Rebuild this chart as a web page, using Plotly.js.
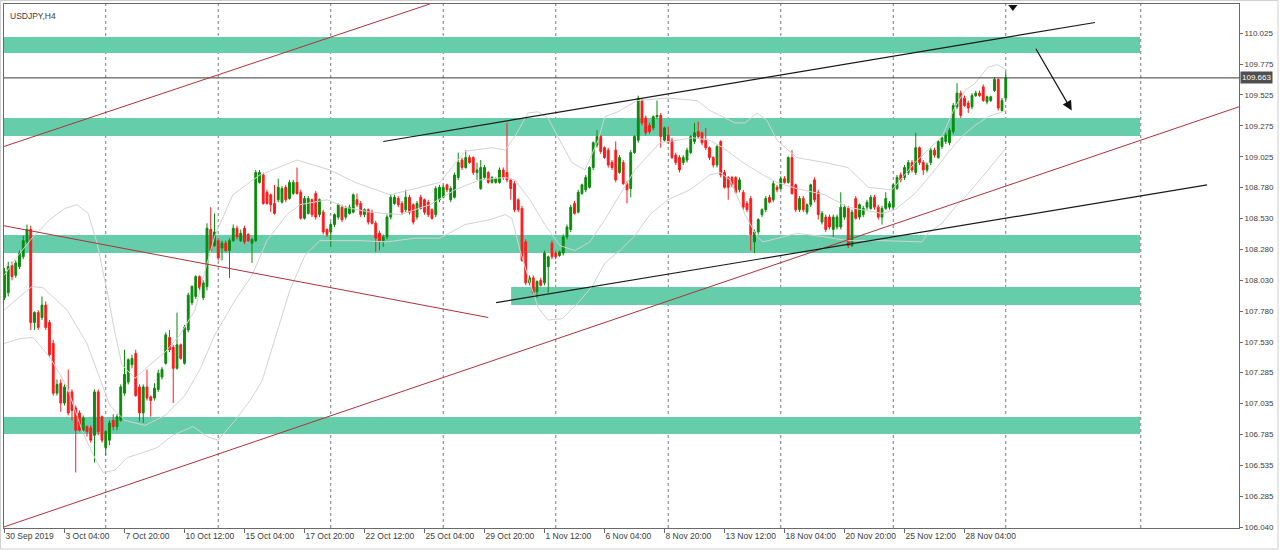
<!DOCTYPE html>
<html><head><meta charset="utf-8">
<script src="https://cdn.plot.ly/plotly-3.0.1.min.js"></script>
<style>html,body{margin:0;padding:0;background:#fff;}#chart{width:1280px;height:551px;}</style>
</head><body><div id="chart"></div>
<script>
// ---- USDJPY H4 candles (bar index 0 = 30 Sep 2019) ----
const openP = [
107.89,107.93,108.15,108.07,108.14,108.22,108.34,108.44,107.69,107.77,
107.73,107.83,107.69,107.52,107.12,107.20,107.04,107.13,107.13,107.00,
106.96,106.82,106.85,106.84,106.78,107.13,106.93,106.68,106.74,106.90,
106.85,106.90,107.12,107.21,107.35,107.44,107.17,106.96,107.17,107.09,
107.08,107.15,107.25,107.36,107.57,107.49,107.32,107.51,107.36,107.63,
107.85,107.90,108.06,107.89,107.98,108.44,108.31,108.35,108.29,108.33,
108.27,108.35,108.45,108.35,108.45,108.40,108.33,108.35,108.82,108.88,
108.74,108.72,108.65,108.68,108.66,108.78,108.69,108.73,108.82,108.74,
108.53,108.57,108.68,108.73,108.56,108.58,108.44,108.42,108.48,108.54,
108.62,108.54,108.57,108.58,108.68,108.65,108.56,108.60,108.58,108.49,
108.41,108.35,108.38,108.54,108.65,108.69,108.65,108.60,108.70,108.64,
108.54,108.70,108.68,108.66,108.60,108.56,108.68,108.70,108.80,108.68,
108.70,108.86,109.00,108.94,109.02,109.02,108.90,108.77,108.86,108.90,
108.82,108.82,108.82,108.92,108.90,108.84,108.81,108.68,108.61,108.34,
108.01,108.05,107.94,108.03,108.01,108.14,108.33,108.25,108.23,108.25,
108.38,108.44,108.65,108.58,108.73,108.76,108.78,108.94,109.12,109.19,
109.10,109.08,108.98,109.08,108.90,108.98,108.81,108.77,109.06,109.16,
109.48,109.34,109.28,109.26,109.35,109.36,109.16,109.20,109.16,109.04,
109.02,108.98,109.00,109.06,109.15,109.23,109.22,109.16,109.10,109.02,
108.96,109.15,108.90,108.86,108.86,108.86,108.76,108.74,108.65,108.69,
108.34,108.42,108.56,108.60,108.70,108.68,108.78,108.77,108.85,108.82,
109.02,108.80,108.60,108.69,108.58,108.64,108.84,108.74,108.50,108.54,
108.54,108.44,108.46,108.46,108.54,108.61,108.31,108.69,108.54,108.56,
108.62,108.61,108.70,108.62,108.54,108.61,108.62,108.62,108.77,108.88,
108.86,108.90,108.98,108.90,109.10,108.98,108.92,108.98,109.08,109.02,
109.11,109.15,109.14,109.23,109.43,109.54,109.50,109.46,109.43,109.52,
109.54,109.59,109.47,109.48,109.56,109.65,109.40,109.50];
const highP = [
108.13,108.18,108.18,108.19,108.27,108.39,108.48,108.47,107.78,107.79,
107.90,107.86,107.71,107.55,107.23,107.23,107.19,107.31,107.15,107.02,
106.98,106.94,106.86,106.86,107.15,107.15,106.94,106.82,106.90,106.95,
106.95,107.19,107.47,107.40,107.43,107.47,107.19,107.19,107.31,107.10,
107.20,107.31,107.33,107.61,107.63,107.51,107.77,107.52,107.67,107.93,
107.99,108.07,108.07,108.03,108.49,108.62,108.57,108.37,108.35,108.35,
108.37,108.48,108.47,108.44,108.47,108.41,108.37,108.92,108.92,108.90,
108.76,108.73,108.80,108.85,108.79,108.80,108.84,108.84,108.94,108.76,
108.71,108.71,108.69,108.75,108.69,108.60,108.45,108.50,108.57,108.65,
108.64,108.63,108.64,108.73,108.73,108.67,108.61,108.61,108.60,108.51,
108.43,108.40,108.56,108.72,108.72,108.71,108.67,108.76,108.72,108.65,
108.67,108.72,108.69,108.68,108.61,108.79,108.80,108.80,108.81,108.79,
108.90,109.06,109.02,109.08,109.04,109.03,108.98,109.00,108.96,108.91,
108.87,108.86,108.94,108.94,109.30,108.85,108.83,108.69,108.63,108.36,
108.07,108.07,108.03,108.05,108.27,108.23,108.35,108.27,108.27,108.40,
108.48,108.64,108.67,108.76,108.81,108.88,108.95,109.15,109.24,109.20,
109.11,109.10,109.00,109.15,109.04,109.00,108.83,109.08,109.20,109.52,
109.50,109.36,109.30,109.36,109.48,109.38,109.27,109.27,109.18,109.06,
109.04,109.04,109.10,109.20,109.30,109.31,109.23,109.26,109.11,109.03,
109.12,109.16,108.92,108.87,108.87,108.87,108.86,108.76,108.67,108.71,
108.44,108.53,108.61,108.71,108.72,108.83,108.80,108.87,108.87,109.03,
109.08,108.81,108.71,108.71,108.65,108.81,108.86,108.76,108.59,108.56,
108.56,108.56,108.56,108.74,108.64,108.63,108.60,108.71,108.65,108.63,
108.68,108.72,108.72,108.64,108.63,108.74,108.67,108.81,108.88,108.90,
108.96,109.00,109.00,109.22,109.11,109.00,108.98,109.10,109.10,109.16,
109.19,109.22,109.26,109.46,109.62,109.56,109.52,109.48,109.54,109.56,
109.56,109.61,109.52,109.52,109.67,109.66,109.50,109.71];
const lowP = [
107.87,107.90,108.03,108.05,108.12,108.20,108.32,107.63,107.63,107.63,
107.71,107.63,107.41,107.10,107.10,106.97,107.02,106.94,106.90,106.48,
106.81,106.81,106.77,106.72,106.56,106.78,106.72,106.62,106.70,106.82,
106.82,106.89,107.10,107.19,107.32,107.09,106.89,106.88,107.06,106.93,
107.06,107.13,107.23,107.35,107.45,107.04,107.31,107.39,107.35,107.61,
107.83,107.88,107.95,107.87,107.95,108.26,108.30,108.19,108.19,108.26,
108.05,108.34,108.36,108.34,108.32,108.34,108.17,108.34,108.81,108.64,
108.64,108.58,108.56,108.66,108.65,108.66,108.68,108.72,108.72,108.52,
108.52,108.56,108.54,108.52,108.54,108.40,108.38,108.30,108.46,108.52,
108.50,108.52,108.56,108.57,108.62,108.54,108.54,108.48,108.48,108.26,
108.27,108.30,108.36,108.52,108.64,108.62,108.56,108.58,108.56,108.48,
108.52,108.60,108.56,108.54,108.52,108.54,108.66,108.69,108.74,108.66,
108.69,108.84,108.92,108.93,108.97,108.88,108.84,108.76,108.85,108.81,
108.81,108.81,108.81,108.84,108.82,108.68,108.58,108.58,108.18,107.99,
107.99,107.91,107.89,107.98,107.99,107.93,108.20,108.20,108.22,108.23,
108.36,108.42,108.56,108.57,108.72,108.74,108.77,108.92,109.10,109.05,
109.01,108.94,108.92,108.82,108.89,108.80,108.65,108.70,109.05,109.14,
109.28,109.20,109.21,109.24,109.33,109.10,109.15,109.13,109.01,108.96,
108.90,108.96,108.98,109.05,109.13,109.17,109.12,109.08,109.00,108.94,
108.94,108.86,108.77,108.68,108.78,108.73,108.74,108.60,108.58,108.27,
108.25,108.40,108.54,108.58,108.65,108.66,108.74,108.76,108.81,108.81,
108.72,108.58,108.58,108.58,108.56,108.62,108.66,108.52,108.48,108.42,
108.44,108.38,108.44,108.44,108.52,108.29,108.30,108.52,108.52,108.54,
108.60,108.60,108.60,108.52,108.48,108.60,108.60,108.60,108.76,108.82,
108.84,108.88,108.90,108.88,108.96,108.88,108.90,108.96,109.02,109.01,
109.09,109.13,109.12,109.21,109.41,109.34,109.43,109.38,109.41,109.51,
109.51,109.47,109.45,109.47,109.55,109.40,109.39,109.48];
const closeP = [
108.10,108.14,108.06,108.17,108.25,108.35,108.44,107.69,107.77,107.65,
107.83,107.65,107.43,107.12,107.19,107.04,107.17,106.96,106.98,106.82,
106.82,106.92,106.81,106.74,107.13,106.81,106.74,106.81,106.88,106.85,
106.93,107.17,107.27,107.39,107.40,107.10,106.96,107.17,107.08,107.06,
107.16,107.28,107.31,107.59,107.47,107.32,107.51,107.40,107.65,107.91,
107.98,108.06,107.97,108.01,108.45,108.27,108.42,108.21,108.33,108.27,
108.35,108.45,108.38,108.41,108.34,108.35,108.36,108.90,108.90,108.65,
108.65,108.64,108.57,108.78,108.77,108.68,108.82,108.82,108.73,108.53,
108.69,108.69,108.56,108.54,108.68,108.42,108.40,108.48,108.56,108.64,
108.52,108.61,108.62,108.72,108.64,108.56,108.60,108.50,108.49,108.37,
108.35,108.38,108.54,108.70,108.70,108.64,108.58,108.70,108.58,108.50,
108.65,108.61,108.58,108.56,108.53,108.77,108.78,108.78,108.76,108.77,
108.88,108.98,108.94,109.02,108.98,108.90,108.92,108.94,108.94,108.82,
108.86,108.85,108.92,108.86,108.84,108.77,108.60,108.60,108.19,108.01,
108.05,107.93,108.02,107.99,108.25,108.22,108.22,108.22,108.26,108.38,
108.46,108.62,108.57,108.74,108.80,108.86,108.94,109.14,109.19,109.07,
109.02,108.96,108.94,108.84,109.02,108.81,108.76,109.06,109.19,109.50,
109.30,109.22,109.23,109.35,109.36,109.19,109.26,109.15,109.02,108.98,
108.92,109.02,109.08,109.19,109.22,109.19,109.14,109.10,109.02,108.96,
109.11,108.88,108.78,108.78,108.80,108.74,108.84,108.62,108.60,108.40,
108.42,108.52,108.60,108.69,108.66,108.81,108.76,108.85,108.82,109.02,
108.73,108.60,108.69,108.60,108.64,108.80,108.68,108.56,108.57,108.44,
108.46,108.54,108.54,108.62,108.62,108.31,108.58,108.53,108.64,108.61,
108.66,108.70,108.62,108.54,108.61,108.69,108.65,108.80,108.86,108.84,
108.94,108.98,108.92,109.10,108.98,108.92,108.96,109.08,109.04,109.15,
109.18,109.20,109.24,109.44,109.54,109.36,109.44,109.42,109.52,109.54,
109.52,109.48,109.51,109.51,109.65,109.42,109.48,109.663];
const barIndex = closeP.map((_, i) => i);

// ---- Bollinger band lines (bar index, price) ----
const bbUpperIdx = [-0.1,3.6,7.6,12.1,16.1,19.3,22.3,24.7,27.3,29.5,31.3,34.8,38.8,42.8,46.8,50.8,53.5,56.1,60.9,68.1,78.0,86.8,93.5,102.8,109.5,116.1,122.8,130.0,133.5,136.1,139.6,142.3,144.9,147.6,151.3,154.8,158.3,160.1,163.6,168.7,176.9,184.7,188.1,194.8,197.5,200.7,203.3,206.0,211.3,218.8,224.9,230.3,236.7,242.8,250.0,253.5,256.1,258.8,262.3,264.7,267.1];
const bbUpperVal = [108.07,108.23,108.38,108.52,108.61,108.64,108.57,108.33,107.95,107.60,107.35,107.24,107.35,107.45,107.59,107.79,108.11,108.39,108.72,108.88,109.00,108.92,108.82,108.72,108.77,108.82,109.07,109.10,109.08,109.19,109.38,109.39,109.34,109.19,108.98,108.92,109.16,109.35,109.39,109.48,109.50,109.48,109.40,109.30,109.30,109.38,109.32,109.16,109.02,108.98,108.94,108.78,108.76,108.98,109.19,109.43,109.56,109.62,109.75,109.77,109.73];
const bbMidIdx = [-0.1,7.3,10.3,16.7,22.0,25.5,28.1,32.1,37.5,42.8,48.1,52.1,56.1,61.5,66.0,70.0,75.3,78.8,86.0,90.8,97.5,105.5,113.5,120.1,126.8,133.5,136.1,140.1,144.1,148.1,152.1,156.1,160.1,164.1,168.1,174.8,183.6,188.1,191.6,196.9,202.3,206.0,211.3,218.8,224.9,234.0,237.5,242.8,248.1,251.6,255.3,258.8,262.3,267.1];
const bbMidVal = [107.79,107.98,107.97,107.79,107.52,107.23,107.02,106.90,106.86,106.94,107.10,107.31,107.59,107.87,108.07,108.35,108.56,108.64,108.68,108.62,108.58,108.56,108.64,108.76,108.84,108.86,108.84,108.68,108.48,108.31,108.27,108.34,108.52,108.72,108.92,109.14,109.18,109.16,109.10,108.98,108.88,108.82,108.77,108.72,108.62,108.57,108.60,108.73,108.92,109.06,109.19,109.28,109.35,109.40];
const bbLowerIdx = [-0.1,4.1,7.6,12.1,16.7,20.9,24.7,26.3,29.5,32.7,36.9,40.7,44.9,50.3,54.0,56.9,61.5,65.5,68.7,72.1,76.1,80.1,84.1,88.1,94.8,102.0,109.5,116.1,122.8,129.5,133.5,135.3,137.5,139.6,142.3,144.9,148.7,153.0,156.7,160.1,164.1,168.1,172.1,176.9,182.8,188.1,190.8,193.5,197.5,200.7,202.3,207.6,211.3,218.8,224.9,234.0,244.7,246.3,250.0,253.5,257.0,262.3,267.1];
const bbLowerVal = [107.52,107.56,107.57,107.41,107.17,106.80,106.56,106.48,106.50,106.60,106.64,106.68,106.78,106.85,106.77,106.74,106.90,107.06,107.22,107.55,107.95,108.23,108.35,108.35,108.35,108.34,108.37,108.37,108.48,108.52,108.56,108.53,108.27,108.06,107.81,107.71,107.72,107.85,107.98,108.17,108.27,108.39,108.56,108.68,108.76,108.88,108.90,108.84,108.56,108.38,108.34,108.38,108.41,108.38,108.35,108.35,108.34,108.41,108.49,108.62,108.73,108.92,109.10];

// ---- axis labels ----
const xTickIdx  = [0,16,32,48,64,80,96,112,128,144,160,176,192,208,224,240,256];
const xTickText = ["30 Sep 2019","3 Oct 04:00","7 Oct 20:00","10 Oct 12:00","15 Oct 04:00",
  "17 Oct 20:00","22 Oct 12:00","25 Oct 04:00","29 Oct 20:00","1 Nov 12:00","6 Nov 04:00",
  "8 Nov 20:00","13 Nov 12:00","18 Nov 04:00","20 Nov 20:00","25 Nov 12:00","28 Nov 04:00"];
const yTickVals = [110.025,109.775,109.525,109.275,109.025,108.780,108.530,108.280,108.030,
  107.780,107.530,107.285,107.035,106.785,106.535,106.285,106.040];
const weekStartIdx = [27,57,87,117,147,177,207,237,267,303];
const lastPrice = 109.663;

// ---- drawn objects (bar index / price) ----
const zoneTop    = [109.993,109.339,108.395,107.976,106.927];
const zoneBottom = [109.863,109.194,108.250,107.831,106.790];
const zoneStart  = [-0.2,-0.2,-0.2,135.1,-0.2];
const zoneEnd    = [302.8,302.8,302.8,302.8,302.8];

const redLineX0 = [-0.1, -0.1, -0.2];
const redLineP0 = [109.11, 108.47, 106.04];
const redLineX1 = [113.5, 129.0, 329.2];
const redLineP1 = [110.26, 107.73, 109.43];

const blackLineX0 = [101.0, 131.1];
const blackLineP0 = [109.15, 107.85];
const blackLineX1 = [290.8, 320.7];
const blackLineP1 = [110.11, 108.80];

const arrowTail = [274.8, 109.91];
const arrowTip  = [284.6, 109.40];
const topMarker = [268.9, 110.235];

const shapes = [];
for (let k = 0; k < zoneTop.length; k++) {
  shapes.push({type:'rect', layer:'below', xref:'x', yref:'y', x0:zoneStart[k], x1:zoneEnd[k],
    y0:zoneBottom[k], y1:zoneTop[k], fillcolor:'#66cdaa', line:{width:0}});
}
weekStartIdx.forEach(v => shapes.push({type:'line', layer:'below', xref:'x', yref:'paper',
  x0:v, x1:v, y0:0, y1:1, line:{color:'#7a7a7a', width:1, dash:'3px,3px'}}));
shapes.push({type:'line', xref:'paper', yref:'y', x0:0, x1:1, y0:lastPrice, y1:lastPrice,
  line:{color:'#3a3a3a', width:1}});
for (let k = 0; k < redLineX0.length; k++) {
  shapes.push({type:'line', xref:'x', yref:'y', x0:redLineX0[k], y0:redLineP0[k], x1:redLineX1[k], y1:redLineP1[k],
    line:{color:'#b0303a', width:1}});
}
for (let k = 0; k < blackLineX0.length; k++) {
  shapes.push({type:'line', xref:'x', yref:'y', x0:blackLineX0[k], y0:blackLineP0[k], x1:blackLineX1[k], y1:blackLineP1[k],
    line:{color:'#1a1a1a', width:1.2}});
}
shapes.push({type:'rect', xref:'paper', yref:'paper', x0:-0.0028, x1:1.0316, y0:-0.0401, y1:1.0067,
  line:{color:'#cfcfcf', width:1}, fillcolor:'rgba(0,0,0,0)'});

const bbStyle = {color:'#d2d2d2', width:1};
const bbTrace = (xs, ys) => ({type:'scatter', mode:'lines', x:xs, y:ys, line:bbStyle,
  hoverinfo:'skip', showlegend:false});

const candles = {
  type:'candlestick', x:barIndex, open:openP, high:highP, low:lowP, close:closeP,
  increasing:{line:{color:'#0b8a0b', width:1}, fillcolor:'#0b8a0b'},
  decreasing:{line:{color:'#ff1a1a', width:1}, fillcolor:'#ff1a1a'},
  whiskerwidth:0, hoverinfo:'skip', showlegend:false
};
const marker = {type:'scatter', mode:'markers', x:[topMarker[0]], y:[topMarker[1]],
  marker:{symbol:'triangle-down', size:8, color:'#111'}, showlegend:false, hoverinfo:'skip', cliponaxis:false};

const font = {family:'"Liberation Sans", Arial, sans-serif', size:8, color:'#3c3c3c'};
const layout = {
  width:1280, height:551,
  margin:{l:4, r:41, t:4, b:23},
  paper_bgcolor:'#ffffff', plot_bgcolor:'#ffffff',
  showlegend:false,
  font:font,
  xaxis:{range:[-0.13, 329.2], showgrid:false, zeroline:false, showline:true, mirror:true,
    linecolor:'#6a6a6a', linewidth:1, ticks:'outside', ticklen:4, tickcolor:'#6a6a6a',
    tickmode:'array', tickvals:xTickIdx, ticktext:xTickText, ticklabelposition:'outside right',
    tickfont:{family:font.family, size:8.5, color:'#3c3c3c'}, rangeslider:{visible:false}, fixedrange:true},
  yaxis:{range:[106.032, 110.259], side:'right', showgrid:false, zeroline:false, showline:true, mirror:true,
    linecolor:'#6a6a6a', linewidth:1, ticks:'outside', ticklen:3, tickcolor:'#6a6a6a',
    tickmode:'array', tickvals:yTickVals, ticktext:yTickVals.map(v => v.toFixed(3)),
    tickfont:{family:font.family, size:8, color:'#3c3c3c'}, fixedrange:true},
  shapes:shapes,
  annotations:[
    {xref:'paper', yref:'paper', x:0, y:1, xanchor:'left', yanchor:'top', xshift:4, yshift:-5,
     text:'USDJPY,H4', showarrow:false, font:{family:font.family, size:8.5, color:'#3c3c3c'}},
    {xref:'paper', yref:'y', x:1, y:lastPrice, xanchor:'left', yanchor:'middle', xshift:1,
     text:lastPrice.toFixed(3), showarrow:false, bgcolor:'#4f4f4f', borderpad:1,
     font:{family:font.family, size:8, color:'#ffffff'}},
    {xref:'x', yref:'y', axref:'x', ayref:'y', x:arrowTip[0], y:arrowTip[1], ax:arrowTail[0], ay:arrowTail[1],
     showarrow:true, arrowhead:2, arrowsize:1.6, arrowwidth:1.2, arrowcolor:'#111', text:''}
  ]
};
Plotly.newPlot('chart', [bbTrace(bbUpperIdx, bbUpperVal), bbTrace(bbMidIdx, bbMidVal),
  bbTrace(bbLowerIdx, bbLowerVal), candles, marker], layout, {staticPlot:true, displayModeBar:false});
</script></body></html>
